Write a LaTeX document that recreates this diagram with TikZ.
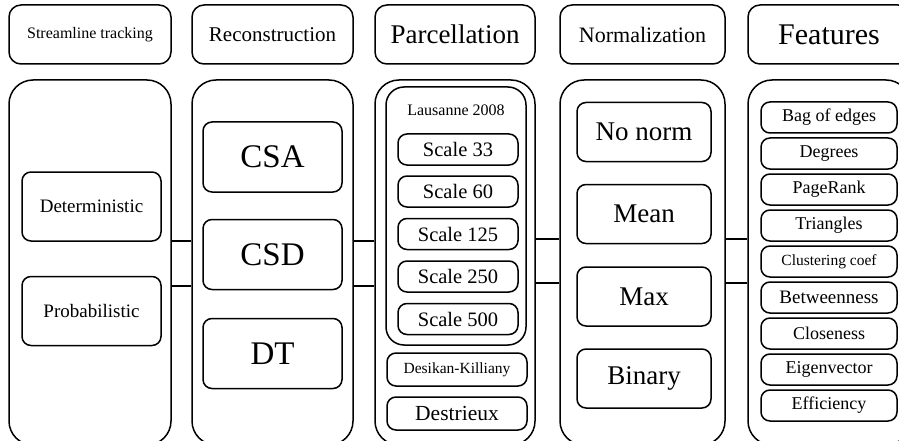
\documentclass[tikz,border=0pt]{standalone}
\usepackage{fontspec}
\setmainfont{Liberation Serif}
\begin{document}
\begin{tikzpicture}
[x=1pt,y=-1pt,
  headdecorate/.style={draw,line width=1.5pt,rounded corners=12pt,inner sep=0pt,
    minimum height=59pt},%
  coldecorate/.style={draw,line width=1.5pt,rounded corners=24pt,inner sep=0pt,
    minimum height=365pt},%
  boxdecorate/.style={draw,line width=1.5pt,rounded corners=9pt,inner sep=0pt},%
  linedecorate/.style={-,line width=1.5pt}]
\useasboundingbox (0,0) rectangle (899,441);
%% headers
\foreach \nodename/\x/\w/\s/\txt in {hStream/90/162/16/Streamline tracking,
  hRecon/272.5/161/21/Reconstruction, hParc/455/160/27/Parcellation,
  hNorm/642.5/165/22/Normalization, hFeat/829/162/30/Features} {
  \node (\nodename) at (\x,34.5) [headdecorate,minimum width=\w pt,
    font=\fontsize{\s}{\s}\selectfont] {\txt};
}
%% columns
\foreach \nodename/\x/\w in {cStream/90/162, cRecon/272.5/161, cParc/455/160,
  cNorm/642.5/165, cFeat/829/162} {
  \node (\nodename) at (\x,262.5) [coldecorate,minimum width=\w pt] {};
}
%% streamline tracking
\foreach \nodename/\y/\txt in {det/206.5/Deterministic, prob/311/Probabilistic} {
  \node (\nodename) at (91.5,\y) [boxdecorate,minimum width=139pt,minimum height=69pt,
    font=\fontsize{19}{19}\selectfont] {\txt};
}
%% reconstruction
\foreach \nodename/\y/\txt in {csa/157/CSA, csd/254.5/CSD, dt/353.5/DT} {
  \node (\nodename) at (272.5,\y) [boxdecorate,minimum width=139pt,minimum height=70pt,
    font=\fontsize{33}{33}\selectfont] {\txt};
}
%% parcellation
\node (lausanne) at (456,216) [boxdecorate,rounded corners=18pt,minimum width=140pt,
  minimum height=258pt] {};
\node (lausannelabel) at (456,110) [font=\fontsize{16}{16}\selectfont] {Lausanne 2008};
\foreach \nodename/\y/\txt in {s33/149.5/33, s60/191.5/60, s125/234/125,
  s250/276.5/250, s500/319/500} {
  \node (\nodename) at (458,\y) [boxdecorate,minimum width=120pt,minimum height=31pt,
    font=\fontsize{20.5}{20.5}\selectfont] {Scale \txt};
}
\node (desikan) at (457,369.5) [boxdecorate,minimum width=140pt,minimum height=33pt,
  font=\fontsize{15.5}{15.5}\selectfont] {Desikan-Killiany};
\node (destrieux) at (457,413.5) [boxdecorate,minimum width=140pt,minimum height=33pt,
  font=\fontsize{21.5}{21.5}\selectfont] {Destrieux};
%% normalization
\foreach \nodename/\y/\txt in {nonorm/132/No norm, mean/214/Mean, max/296.5/Max,
  binary/378.5/Binary} {
  \node (\nodename) at (644,\y) [boxdecorate,minimum width=134pt,minimum height=59pt,
    font=\fontsize{27}{27}\selectfont] {\txt};
}
%% features
\foreach \nodename/\y/\s/\txt in {bag/117.5/18/Bag of edges, deg/153.5/18/Degrees,
  prank/189.5/18/PageRank, tri/225.5/18/Triangles, clust/261.5/15.5/Clustering coef,
  betw/297.5/19/Betweenness, clos/333.5/18/Closeness, eig/369.5/18/Eigenvector,
  eff/405.5/18/Efficiency} {
  \node (\nodename) at (829,\y) [boxdecorate,minimum width=136pt,minimum height=31pt,
    font=\fontsize{\s}{\s}\selectfont] {\txt};
}
%% edges or lines
\path
\foreach \startnode/\endnode/\ya/\yb in {cStream/cRecon/241/286,
  cRecon/cParc/241/286, cParc/cNorm/239/283, cNorm/cFeat/239/283} {
  (\startnode.east |- 0,\ya) edge[linedecorate] (\endnode.west |- 0,\ya)
  (\startnode.east |- 0,\yb) edge[linedecorate] (\endnode.west |- 0,\yb)
};
\end{tikzpicture}
\end{document}
